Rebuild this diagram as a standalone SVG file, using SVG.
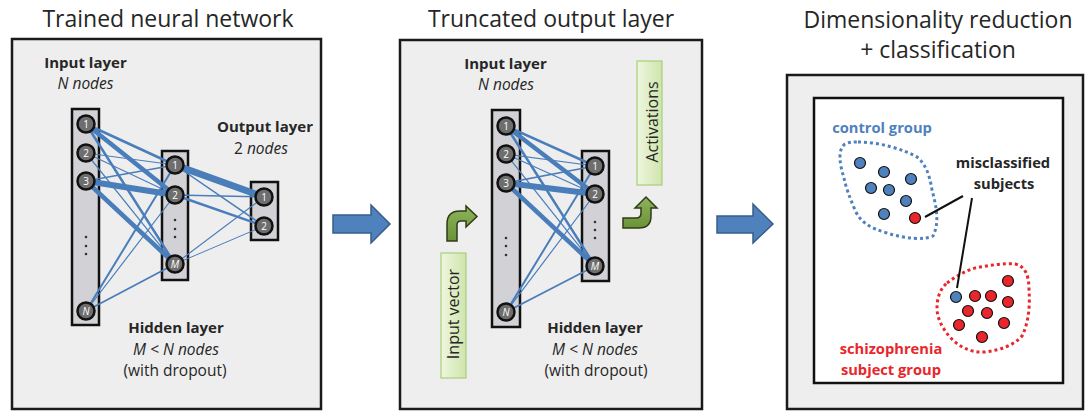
<svg xmlns="http://www.w3.org/2000/svg" width="1085" height="412" viewBox="0 0 1085 412">
<defs>
<style>
.panel{fill:#eeeeee;stroke:#1a1a1a;stroke-width:2.5}
.col{fill:#d2d2d6;stroke:#111;stroke-width:2.5}
.neu{fill:#6e6e6e;stroke:#111;stroke-width:2.5}
.nl{font-family:"Open Sans",sans-serif;font-size:10px;fill:#fff;text-anchor:middle}
.it{font-style:italic}
.title{font-family:"Open Sans",sans-serif;font-size:23px;fill:#262626;text-anchor:middle}
.lbl{font-family:"Open Sans",sans-serif;font-size:15.5px;fill:#262626;text-anchor:middle}
.b{font-weight:bold;font-size:15px}
.p3{font-size:14.7px}
.dot{fill:#333}
.w{stroke:#4a7ebb;stroke-linecap:round;fill:none}
.big{fill:#4f81bd;stroke:#385d8a;stroke-width:1.5}
.green{fill:url(#gbox);stroke:#a9cf7c;stroke-width:1.2}
.garr{fill:url(#garr);stroke:#2e3d18;stroke-width:1.5}
.ctrl{fill:#4f81bd;stroke:#111;stroke-width:1.2}
.scz{fill:#e8262c;stroke:#111;stroke-width:1.2}
</style>
<linearGradient id="gbox" x1="0" y1="0" x2="1" y2="0">
<stop offset="0" stop-color="#eef6df"/><stop offset="1" stop-color="#cfe5ab"/>
</linearGradient>
<linearGradient id="garr" x1="0" y1="0" x2="0" y2="1">
<stop offset="0" stop-color="#8db45a"/><stop offset="1" stop-color="#6b9239"/>
</linearGradient>
</defs>

<!-- Titles -->
<text class="title" x="168" y="27">Trained neural network</text>
<text class="title" x="551" y="27">Truncated output layer</text>
<text class="title" x="938" y="28">Dimensionality reduction</text>
<text class="title" x="938" y="58">+ classification</text>

<!-- Panel 1 -->
<g id="panel1">
<rect class="panel" x="12" y="39" width="309" height="370"/>
<text class="lbl b" x="85.5" y="68">Input layer</text>
<text class="lbl it" x="85.5" y="89">N nodes</text>
<text class="lbl b" x="265" y="132">Output layer</text>
<text class="lbl" x="261" y="154">2 <tspan class="it">nodes</tspan></text>
<text class="lbl b" x="176" y="333">Hidden layer</text>
<text class="lbl it" x="176" y="355">M &lt; N nodes</text>
<text class="lbl" x="175" y="376">(with dropout)</text>
</g>

<g id="p1-input-layer">
<rect class="col" x="72" y="109" width="27" height="216"/>
<circle class="dot" cx="86" cy="237" r="1.3"/><circle class="dot" cx="86" cy="246" r="1.3"/><circle class="dot" cx="86" cy="254" r="1.3"/>
</g>
<g id="p1-hidden-layer">
<rect class="col" x="162" y="151" width="26" height="129"/>
<circle class="dot" cx="175" cy="220" r="1.3"/><circle class="dot" cx="175" cy="229" r="1.3"/><circle class="dot" cx="175" cy="237" r="1.3"/>
</g>
<g id="p1-output-layer">
<rect class="col" x="251" y="182" width="27" height="58"/>
</g>

<!-- Panel 2 -->
<g id="panel2">
<rect class="panel" x="400" y="40" width="302" height="369"/>
<text class="lbl b" x="505.5" y="69">Input layer</text>
<text class="lbl it" x="506" y="90">N nodes</text>
<text class="lbl b" x="595" y="333">Hidden layer</text>
<text class="lbl it" x="595" y="355">M &lt; N nodes</text>
<text class="lbl" x="596" y="376">(with dropout)</text>
</g>
<g id="p2-input-layer">
<rect class="col" x="492" y="110" width="28" height="217"/>
<circle class="dot" cx="506" cy="238" r="1.3"/><circle class="dot" cx="506" cy="246" r="1.3"/><circle class="dot" cx="506" cy="255" r="1.3"/>
</g>
<g id="p2-hidden-layer">
<rect class="col" x="582" y="151" width="27" height="130"/>
<circle class="dot" cx="595" cy="222" r="1.3"/><circle class="dot" cx="595" cy="230" r="1.3"/><circle class="dot" cx="595" cy="238" r="1.3"/>
</g>

<!-- Connectors -->
<g id="connectors">
<line class="w" x1="86" y1="124" x2="175" y2="165" stroke-width="2.5"/>
<line class="w" x1="86" y1="124" x2="175" y2="195" stroke-width="4.5"/>
<line class="w" x1="86" y1="124" x2="175" y2="264" stroke-width="2.5"/>
<line class="w" x1="86" y1="153" x2="175" y2="165" stroke-width="1.2"/>
<line class="w" x1="86" y1="153" x2="175" y2="195" stroke-width="1.2"/>
<line class="w" x1="86" y1="153" x2="175" y2="264" stroke-width="1.2"/>
<line class="w" x1="86" y1="181" x2="175" y2="165" stroke-width="1.5"/>
<line class="w" x1="86" y1="181" x2="175" y2="195" stroke-width="6"/>
<line class="w" x1="86" y1="181" x2="175" y2="264" stroke-width="4.5"/>
<line class="w" x1="86" y1="311" x2="175" y2="165" stroke-width="2"/>
<line class="w" x1="86" y1="311" x2="175" y2="195" stroke-width="1.2"/>
<line class="w" x1="86" y1="311" x2="175" y2="264" stroke-width="1.8"/>
<line class="w" x1="175" y1="165" x2="264" y2="197" stroke-width="7"/>
<line class="w" x1="175" y1="165" x2="264" y2="226" stroke-width="1.5"/>
<line class="w" x1="175" y1="195" x2="264" y2="197" stroke-width="1.5"/>
<line class="w" x1="175" y1="195" x2="264" y2="226" stroke-width="2.5"/>
<line class="w" x1="175" y1="264" x2="264" y2="197" stroke-width="1.2"/>
<line class="w" x1="175" y1="264" x2="264" y2="226" stroke-width="1"/>
<line class="w" x1="506" y1="126" x2="595" y2="166" stroke-width="2.5"/>
<line class="w" x1="506" y1="126" x2="595" y2="194" stroke-width="4.5"/>
<line class="w" x1="506" y1="126" x2="595" y2="266" stroke-width="2.5"/>
<line class="w" x1="506" y1="154" x2="595" y2="166" stroke-width="1.2"/>
<line class="w" x1="506" y1="154" x2="595" y2="194" stroke-width="1.2"/>
<line class="w" x1="506" y1="154" x2="595" y2="266" stroke-width="1.2"/>
<line class="w" x1="506" y1="183" x2="595" y2="166" stroke-width="1.5"/>
<line class="w" x1="506" y1="183" x2="595" y2="194" stroke-width="6"/>
<line class="w" x1="506" y1="183" x2="595" y2="266" stroke-width="4.5"/>
<line class="w" x1="506" y1="312" x2="595" y2="166" stroke-width="2"/>
<line class="w" x1="506" y1="312" x2="595" y2="194" stroke-width="1.2"/>
<line class="w" x1="506" y1="312" x2="595" y2="266" stroke-width="1.8"/>
</g>

<!-- Neurons panel 1 -->
<g id="p1-i1"><circle class="neu" cx="86" cy="124" r="8.5"/><text class="nl" x="86" y="127.5">1</text></g>
<g id="p1-i2"><circle class="neu" cx="86" cy="153" r="8.5"/><text class="nl" x="86" y="156.5">2</text></g>
<g id="p1-i3"><circle class="neu" cx="86" cy="181" r="8.5"/><text class="nl" x="86" y="184.5">3</text></g>
<g id="p1-iN"><circle class="neu" cx="86" cy="311" r="8.5"/><text class="nl it" x="86" y="314.5">N</text></g>
<g id="p1-h1"><circle class="neu" cx="175" cy="165" r="8.5"/><text class="nl" x="175" y="168.5">1</text></g>
<g id="p1-h2"><circle class="neu" cx="175" cy="195" r="8.5"/><text class="nl" x="175" y="198.5">2</text></g>
<g id="p1-hM"><circle class="neu" cx="175" cy="264" r="8.5"/><text class="nl it" x="175" y="267.5">M</text></g>
<g id="p1-o1"><circle class="neu" cx="264" cy="197" r="8.5"/><text class="nl" x="264" y="200.5">1</text></g>
<g id="p1-o2"><circle class="neu" cx="264" cy="226" r="8.5"/><text class="nl" x="264" y="229.5">2</text></g>

<!-- Neurons panel 2 -->
<g id="p2-i1"><circle class="neu" cx="506" cy="126" r="8.5"/><text class="nl" x="506" y="129.5">1</text></g>
<g id="p2-i2"><circle class="neu" cx="506" cy="154" r="8.5"/><text class="nl" x="506" y="157.5">2</text></g>
<g id="p2-i3"><circle class="neu" cx="506" cy="183" r="8.5"/><text class="nl" x="506" y="186.5">3</text></g>
<g id="p2-iN"><circle class="neu" cx="506" cy="312" r="8.5"/><text class="nl it" x="506" y="315.5">N</text></g>
<g id="p2-h1"><circle class="neu" cx="595" cy="166" r="8.5"/><text class="nl" x="595" y="169.5">1</text></g>
<g id="p2-h2"><circle class="neu" cx="595" cy="194" r="8.5"/><text class="nl" x="595" y="197.5">2</text></g>
<g id="p2-hM"><circle class="neu" cx="595" cy="266" r="8.5"/><text class="nl it" x="595" y="269.5">M</text></g>

<!-- Green boxes and arrows -->
<g id="activations">
<rect class="green" x="637" y="61" width="25" height="124"/>
<text class="lbl" transform="translate(657.5,122) rotate(-90)" x="0" y="0" style="font-size:16px">Activations</text>
</g>
<g id="input-vector">
<rect class="green" x="441" y="253" width="25" height="125"/>
<text class="lbl" transform="translate(459,314) rotate(-90)" x="0" y="0" style="font-size:16px">Input vector</text>
</g>
<g id="green-arrow-in">
<path class="garr" d="M447,241 L447,224 Q447,211 460,211 L466,211 L466,206 L477,216.5 L466,227 L466,221 L461,221 Q457,221 457,225 L457,241 Z"/>
</g>
<g id="green-arrow-out">
<path class="garr" d="M623,218 L636,218 Q641,218 641,213 L641,208 L635,208 L646,197 L657,208 L651,208 L651,216 Q651,228 639,228 L623,228 Z"/>
</g>

<!-- Blue block arrows -->
<g id="arrow1"><path class="big" d="M333,215 L371,215 L371,205 L390,224 L371,243 L371,233 L333,233 Z"/></g>
<g id="arrow2"><path class="big" d="M717,216 L753,216 L753,204 L773,224 L753,243 L753,233 L717,233 Z"/></g>

<!-- Panel 3 -->
<g id="panel3">
<rect class="panel" x="787" y="75" width="296" height="334"/>
<rect x="814" y="98" width="249" height="285" fill="#ffffff" stroke="#111" stroke-width="2.5"/>
</g>
<g id="control-group">
<path d="M858,142 C880,142 905,150 917,157 C927,165 930,178 932,190 C936,205 940,222 933,236 C925,240 905,239 887,233 C870,228 860,222 855,210 C850,198 846,188 844,178 C840,165 837,150 845,144 C849,142 853,142 858,142 Z" fill="none" stroke="#4f81bd" stroke-width="3" stroke-dasharray="3,3"/>
<text class="lbl b p3" x="882" y="133" style="fill:#4f81bd">control group</text>
<circle class="ctrl" cx="860" cy="163" r="5.5"/>
<circle class="ctrl" cx="884" cy="172" r="5.5"/>
<circle class="ctrl" cx="911" cy="179" r="5.5"/>
<circle class="ctrl" cx="871" cy="188" r="5.5"/>
<circle class="ctrl" cx="889" cy="190" r="5.5"/>
<circle class="ctrl" cx="906" cy="201" r="5.5"/>
<circle class="ctrl" cx="884" cy="214" r="5.5"/>
<circle class="scz" cx="915" cy="218" r="5.5"/>
</g>
<g id="schizophrenia-group">
<path d="M947,283 C958,275 968,269 980,267 C992,265 1005,263 1015,264 C1025,266 1029,275 1029,290 C1030,305 1029,322 1022,336 C1013,346 1000,350 985,352 C970,353 958,346 950,337 C942,328 937,318 937,308 C937,298 940,289 947,283 Z" fill="none" stroke="#e8262c" stroke-width="3" stroke-dasharray="3,3"/>
<text class="lbl b p3" x="891" y="354" style="fill:#e8262c">schizophrenia</text>
<text class="lbl b p3" x="891" y="375" style="fill:#e8262c">subject group</text>
<circle class="scz" cx="1008" cy="281" r="5.5"/>
<circle class="ctrl" cx="956" cy="297" r="5.5"/>
<circle class="scz" cx="975" cy="296" r="5.5"/>
<circle class="scz" cx="991" cy="296" r="5.5"/>
<circle class="scz" cx="1008" cy="302" r="5.5"/>
<circle class="scz" cx="968" cy="311" r="5.5"/>
<circle class="scz" cx="987" cy="313" r="5.5"/>
<circle class="scz" cx="959" cy="325" r="5.5"/>
<circle class="scz" cx="1004" cy="323" r="5.5"/>
<circle class="scz" cx="982" cy="337" r="5.5"/>
</g>
<g id="misclassified">
<text class="lbl b p3" x="1003" y="168">misclassified</text>
<text class="lbl b p3" x="1004" y="189">subjects</text>
<line x1="925" y1="217" x2="963" y2="196" stroke="#111" stroke-width="2"/>
<line x1="972" y1="198" x2="957" y2="288" stroke="#111" stroke-width="2"/>
</g>
</svg>
